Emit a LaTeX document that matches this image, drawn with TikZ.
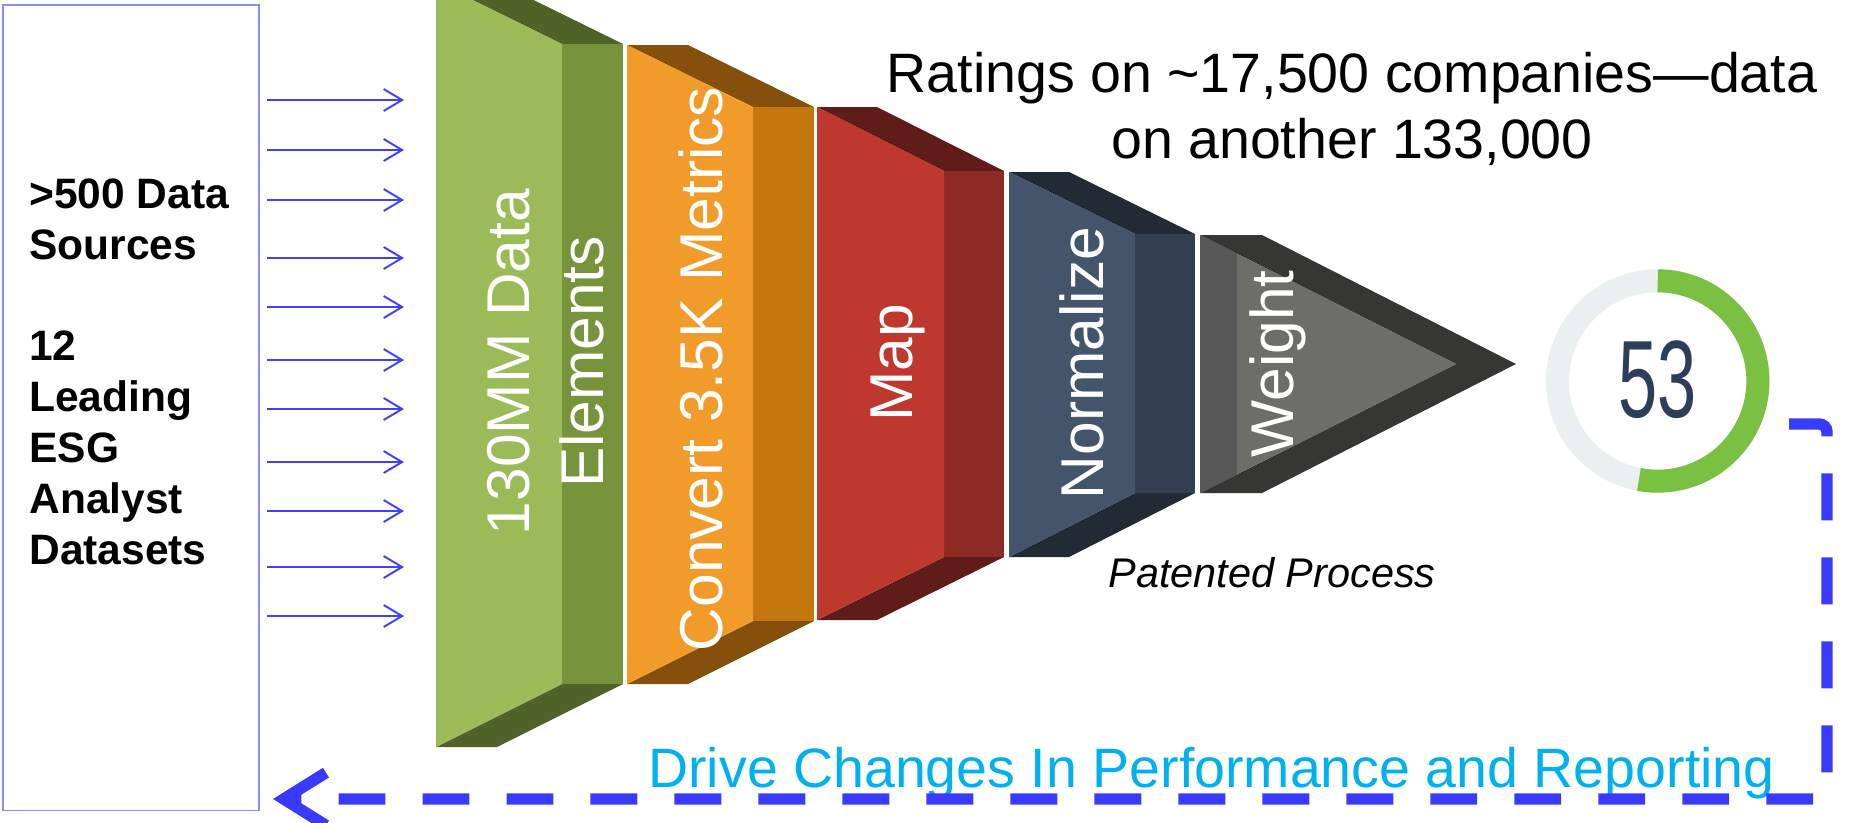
\documentclass[tikz,border=0pt]{standalone}
\usepackage{fontspec}
\usepackage{graphicx}
\setmainfont{Liberation Sans}
\usetikzlibrary{arrows.meta}
\definecolor{gF}{HTML}{9BBB59}\definecolor{gS}{HTML}{77933C}\definecolor{gB}{HTML}{4F6228}
\definecolor{oF}{HTML}{F19B2A}\definecolor{oS}{HTML}{C4770C}\definecolor{oB}{HTML}{84500B}
\definecolor{rF}{HTML}{BE3830}\definecolor{rS}{HTML}{8E2A24}\definecolor{rB}{HTML}{5F1C19}
\definecolor{nF}{HTML}{44546A}\definecolor{nS}{HTML}{333F50}\definecolor{nB}{HTML}{222A35}
\definecolor{wF}{HTML}{6D6E69}\definecolor{wS}{HTML}{575757}\definecolor{wB}{HTML}{363634}
\definecolor{ringgray}{HTML}{ECEFF0}\definecolor{ringgreen}{HTML}{7AC143}
\definecolor{numnavy}{HTML}{2C3E5A}\definecolor{drivecyan}{HTML}{00B0F0}
\definecolor{fbblue}{HTML}{3A3AFF}\definecolor{arrblue}{HTML}{4040FF}\definecolor{boxc}{HTML}{8C8CFF}
% funnel segment: L, M, R, yT, yT2, yB2, yB, colour prefix
\newcommand\fseg[8]{%
  \fill[#8B] (#1,#4) -- ({#1+#3-#2},#4) -- (#3,#5) -- (#2,#5) -- cycle;
  \fill[#8B] (#1,#7) -- ({#1+#3-#2},#7) -- (#3,#6) -- (#2,#6) -- cycle;
  \fill[#8S] (#2,#5) rectangle (#3,#6);
  \fill[#8F] (#1,#4) -- (#2,#5) -- (#2,#6) -- (#1,#7) -- cycle;
}
\begin{document}
\begin{tikzpicture}[x=0.02cm,y=-0.02cm,
  seglabel/.style={text=white, rotate=90, anchor=base, inner sep=0pt, align=center,
    font=\fontsize{34.4pt}{42.1pt}\selectfont},
  feed/.style={draw=fbblue, line width=6.5pt, dash pattern=on 26.7pt off 21.1pt,
    rounded corners=4.5pt, -{Straight Barb[length=24pt,width=30pt]}},
  inarrow/.style={draw=arrblue, line width=1.1pt, -{Straight Barb[length=10.5pt,width=12.5pt]}},
  srcbox/.style={draw=boxc, line width=0.9pt, inner sep=0pt, anchor=north west,
    minimum width=5.12cm, minimum height=16.12cm}
]
\useasboundingbox (0,0) rectangle (1865,822);
\clip (0,0) rectangle (1865,822);

% source box and text
\node[srcbox] (src) at (2,4) {};
\node[anchor=base west, align=left, inner sep=0pt,
  font=\fontsize{24.2pt}{28.9pt}\selectfont\bfseries] (srctext) at (29,564)
  {>500 Data\\Sources\\[28.9pt]12\\Leading\\ESG\\Analyst\\Datasets};

% input arrows
\foreach \i/\y in {1/100,2/150,3/200,4/258,5/307,6/360,7/409,8/462,9/511,10/567,11/616}{
  \coordinate (in\i) at (267,\y);
  \coordinate (out\i) at (404,\y);
  \draw[inarrow] (in\i) -- (out\i);
}

% funnel
\fseg{436}{562}{623}{-18}{44}{684}{747}{g}
\fseg{627}{753}{814}{45}{107}{621}{684}{o}
\fseg{817}{944}{1004}{107}{171}{557}{620}{r}
\fseg{1009}{1135}{1195}{172}{234}{493}{557}{n}
% weight (pointed)
\fill[wB] (1200,235) -- (1262,235) -- (1516,364) -- (1456,364) -- cycle;
\fill[wB] (1200,493) -- (1262,493) -- (1516,364) -- (1456,364) -- cycle;
\fill[wF] (1200,235) -- (1456,364) -- (1200,493) -- cycle;
\fill[wS] (1200,235) -- (1237,253.6) -- (1237,474.4) -- (1200,493) -- cycle;

% segment labels
\node[seglabel] (lab1) at (603,362) {130MM Data\\Elements};
\node[seglabel] (lab2) at (722,369) {Convert 3.5K Metrics};
\node[seglabel] (lab3) at (912,363) {Map};
\node[seglabel] (lab4) at (1103,363) {Normalize};
\node[seglabel] (lab5) at (1293,364) {Weight};

% headline and caption
\node[anchor=base, align=center, inner sep=0pt, font=\fontsize{31.6pt}{37pt}\selectfont]
  (ratings) at (1352,158) {Ratings on \textasciitilde17,500 companies—data\\on another 133,000};
\node[anchor=base west, inner sep=0pt, font=\fontsize{23.6pt}{28pt}\selectfont\itshape]
  (patent) at (1108,587) {Patented Process};

% score donut
\coordinate (dc) at (1657.7,381);
\draw[ringgray, line width=13.1pt] (dc) circle[radius=100.2];
\draw[ringgreen, line width=13.1pt] ([shift={(-90:100.2)}]dc) arc[start angle=-90, end angle=100.8, radius=100.2];
\node[text=numnavy, inner sep=0pt, font=\fontsize{62.6pt}{62.6pt}\selectfont] (score) at (1657.5,380) {\scalebox{0.64}[1]{53}};

% feedback loop
\node[anchor=base west, inner sep=0pt, text=drivecyan, font=\fontsize{31.6pt}{37pt}\selectfont]
  (drive) at (648,787) {Drive Changes In Performance and Reporting};
\coordinate (fbstart) at (1789,424);
\coordinate (fbcorner) at (1827,799);
\coordinate (fbend) at (273,799);
\draw[feed] (fbstart) -| (fbcorner) -- (fbend);
\end{tikzpicture}
\end{document}
